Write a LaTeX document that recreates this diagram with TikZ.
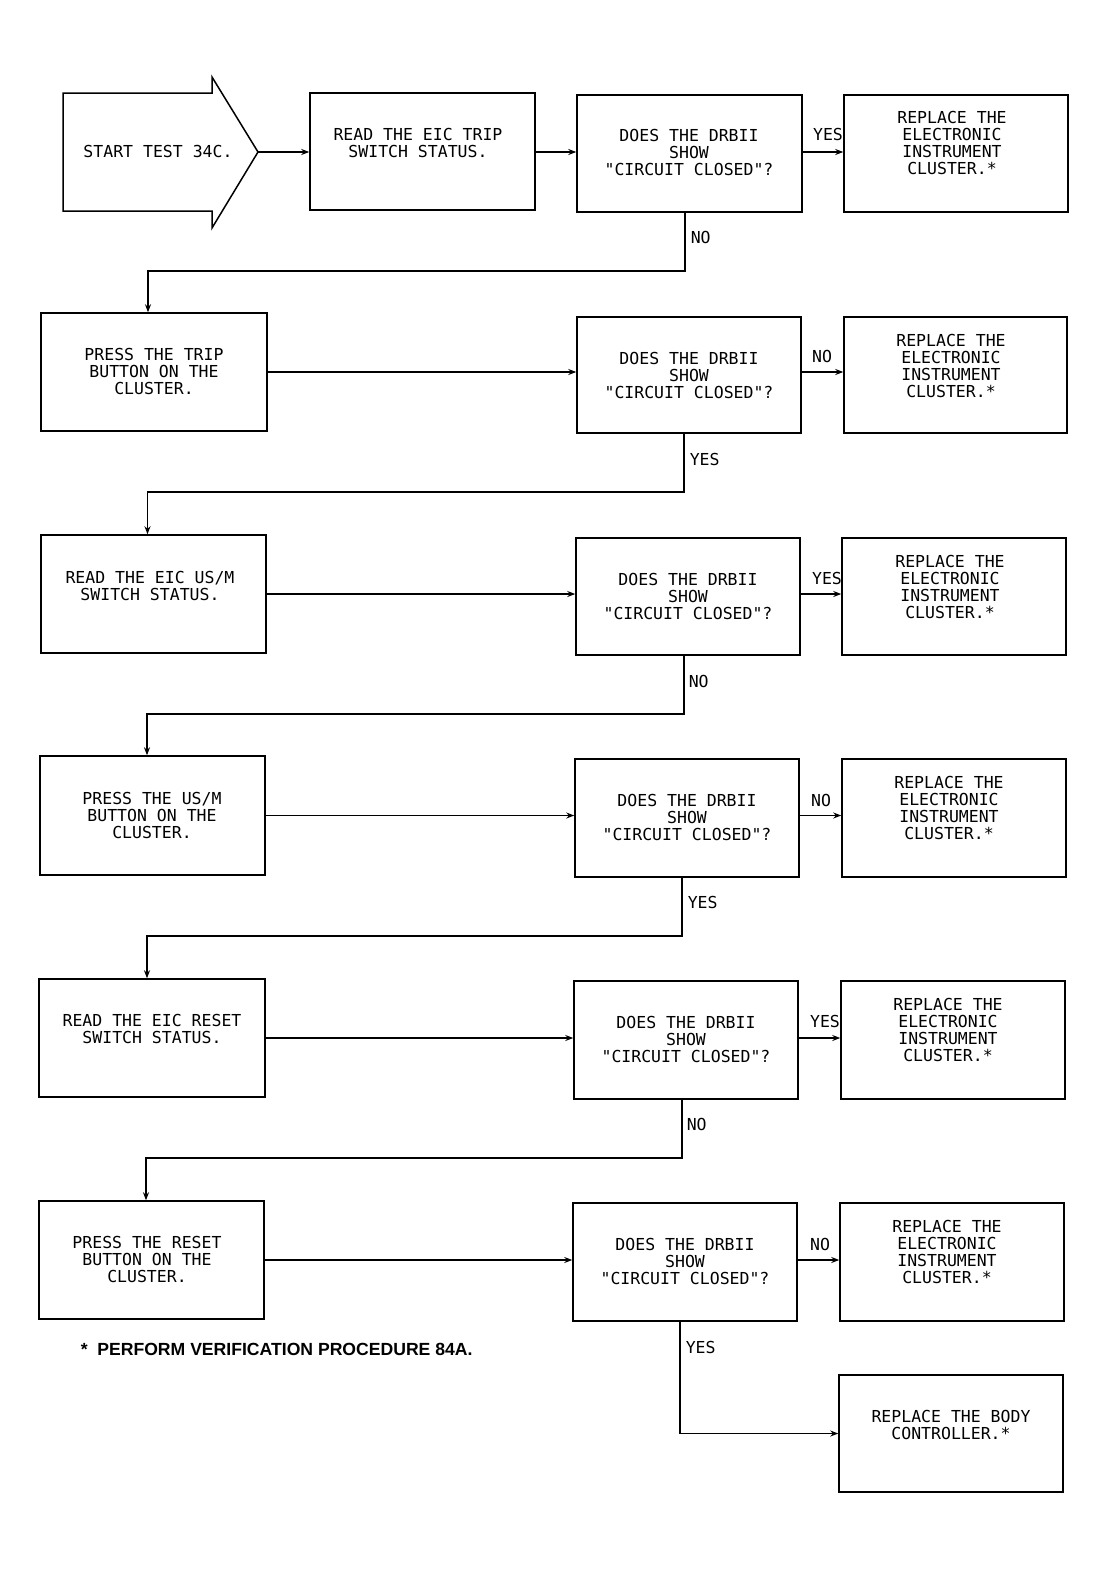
\documentclass[tikz,border=0pt]{standalone}
\usepackage{fontspec}
\setmonofont{DejaVu Sans Mono}
\newfontfamily\footfont{Liberation Sans}
\usetikzlibrary{arrows.meta}
\begin{document}
\begin{tikzpicture}[x=1pt,y=-1pt,
  line width=1.5pt,
  boxstyle/.style={draw,line width=1.5pt,inner sep=0pt,minimum width=#1},
  boxstyle/.default=225pt,
  txt/.style={font=\ttfamily\fontsize{16.5}{17}\selectfont,align=center,inner sep=0pt,anchor=north},
  lbl/.style={font=\ttfamily\fontsize{16.5}{17}\selectfont,inner sep=0pt},
  arr/.style={-{Stealth[length=8pt,width=6pt]},line width=1.5pt},
  plain/.style={line width=1.5pt}]
\useasboundingbox (0,0) rectangle (1108,1571);
% start arrow
\coordinate (st) at (258,152);
\draw[plain,line join=miter] (63,93) -- (212,93) -- (212,77) -- (st) -- (212,228) -- (212,211) -- (63,211) -- cycle;
\node[lbl] (stt) at (158,151) {START TEST 34C.};
% boxes
\node[boxstyle=225pt,minimum height=117pt] (r1) at (422.5,151.5) {};
\node[boxstyle=225pt,minimum height=117pt] (d1) at (689.5,153.5) {};
\node[boxstyle=224pt,minimum height=117pt] (x1) at (956,153.5) {};
\node[boxstyle=226pt,minimum height=118pt] (p2) at (154,372) {};
\node[boxstyle=224pt,minimum height=116pt] (d2) at (689,375) {};
\node[boxstyle=223pt,minimum height=116pt] (x2) at (955.5,375) {};
\node[boxstyle=225pt,minimum height=118pt] (p3) at (153.5,594) {};
\node[boxstyle=224pt,minimum height=117pt] (d3) at (688,596.5) {};
\node[boxstyle=224pt,minimum height=117pt] (x3) at (954,596.5) {};
\node[boxstyle=225pt,minimum height=119pt] (p4) at (152.5,815.5) {};
\node[boxstyle=224pt,minimum height=118pt] (d4) at (687,818) {};
\node[boxstyle=224pt,minimum height=118pt] (x4) at (954,818) {};
\node[boxstyle=226pt,minimum height=118pt] (p5) at (152,1038) {};
\node[boxstyle=224pt,minimum height=118pt] (d5) at (686,1040) {};
\node[boxstyle=224pt,minimum height=118pt] (x5) at (953,1040) {};
\node[boxstyle=225pt,minimum height=118pt] (p6) at (151.5,1260) {};
\node[boxstyle=224pt,minimum height=118pt] (d6) at (685,1262) {};
\node[boxstyle=224pt,minimum height=118pt] (x6) at (952,1262) {};
\node[boxstyle=224pt,minimum height=117pt] (b7) at (951,1433.5) {};
% texts
\node[txt] (r1t) at (418,128) {READ THE EIC TRIP\\SWITCH STATUS.};
\node[txt] (d1t) at (689,129) {DOES THE DRBII\\SHOW\\"CIRCUIT CLOSED"?};
\node[txt] (x1t) at (952,111) {REPLACE THE\\ELECTRONIC\\INSTRUMENT\\CLUSTER.*};
\node[txt] (p2t) at (154,347) {PRESS THE TRIP\\BUTTON ON THE\\CLUSTER.};
\node[txt] (d2t) at (689,351) {DOES THE DRBII\\SHOW\\"CIRCUIT CLOSED"?};
\node[txt] (x2t) at (951,333) {REPLACE THE\\ELECTRONIC\\INSTRUMENT\\CLUSTER.*};
\node[txt] (p3t) at (150,570) {READ THE EIC US/M\\SWITCH STATUS.};
\node[txt] (d3t) at (688,572) {DOES THE DRBII\\SHOW\\"CIRCUIT CLOSED"?};
\node[txt] (x3t) at (950,554) {REPLACE THE\\ELECTRONIC\\INSTRUMENT\\CLUSTER.*};
\node[txt] (p4t) at (152,791) {PRESS THE US/M\\BUTTON ON THE\\CLUSTER.};
\node[txt] (d4t) at (687,793) {DOES THE DRBII\\SHOW\\"CIRCUIT CLOSED"?};
\node[txt] (x4t) at (949,775) {REPLACE THE\\ELECTRONIC\\INSTRUMENT\\CLUSTER.*};
\node[txt] (p5t) at (152,1013) {READ THE EIC RESET\\SWITCH STATUS.};
\node[txt] (d5t) at (686,1015) {DOES THE DRBII\\SHOW\\"CIRCUIT CLOSED"?};
\node[txt] (x5t) at (948,997) {REPLACE THE\\ELECTRONIC\\INSTRUMENT\\CLUSTER.*};
\node[txt] (p6t) at (147,1235) {PRESS THE RESET\\BUTTON ON THE\\CLUSTER.};
\node[txt] (d6t) at (685,1237) {DOES THE DRBII\\SHOW\\"CIRCUIT CLOSED"?};
\node[txt] (x6t) at (947,1219) {REPLACE THE\\ELECTRONIC\\INSTRUMENT\\CLUSTER.*};
\node[txt] (b7t) at (951,1409) {REPLACE THE BODY\\CONTROLLER.*};
% footnote
\node[font=\footfont\bfseries\fontsize{17.6}{19}\selectfont,anchor=west,inner sep=0pt] (fn) at (80,1349) {*\ \ PERFORM VERIFICATION PROCEDURE 84A.};
% horizontal connectors
\draw[arr] (st) -- (st -| r1.west);
\draw[arr] (r1.east |- st) -- (r1.east |- st -| d1.west);
\draw[arr] (d1.east |- st) -- (st -| x1.west);
\draw[arr] (p2.east) -- (p2.east -| d2.west);
\draw[arr] (d2.east |- p2.east) -- (p2.east -| x2.west);
\draw[arr] (p3.east) -- (p3.east -| d3.west);
\draw[arr] (d3.east |- p3.east) -- (p3.east -| x3.west);
\draw[arr] (p4.east) -- (p4.east -| d4.west);
\draw[arr] (d4.east |- p4.east) -- (p4.east -| x4.west);
\draw[arr] (p5.east) -- (p5.east -| d5.west);
\draw[arr] (d5.east |- p5.east) -- (p5.east -| x5.west);
\draw[arr] (p6.east) -- (p6.east -| d6.west);
\draw[arr] (d6.east |- p6.east) -- (p6.east -| x6.west);
% vertical drops
\draw[arr] ([xshift=-4.5pt]d1.south) -- ++(0,58) -| ([xshift=-6pt]p2.north);
\draw[arr] ([xshift=-5pt]d2.south) -- ++(0,58) -| ([xshift=-6pt]p3.north);
\draw[arr] ([xshift=-4pt]d3.south) -- ++(0,58) -| ([xshift=-5.5pt]p4.north);
\draw[arr] ([xshift=-5pt]d4.south) -- ++(0,58) -| ([xshift=-5pt]p5.north);
\draw[arr] ([xshift=-4pt]d5.south) -- ++(0,58) -| ([xshift=-5.5pt]p6.north);
\draw[arr] ([xshift=-5pt]d6.south) |- (b7.west);
% labels
\node[lbl] (l1a) at (828,134) {YES};
\node[lbl,anchor=west] (l1b) at (690,237) {NO};
\node[lbl] (l2a) at (822,356) {NO};
\node[lbl,anchor=west] (l2b) at (689,459) {YES};
\node[lbl] (l3a) at (827,578) {YES};
\node[lbl,anchor=west] (l3b) at (688,681) {NO};
\node[lbl] (l4a) at (821,800) {NO};
\node[lbl,anchor=west] (l4b) at (687,902) {YES};
\node[lbl] (l5a) at (825,1021) {YES};
\node[lbl,anchor=west] (l5b) at (686,1124) {NO};
\node[lbl] (l6a) at (820,1244) {NO};
\node[lbl,anchor=west] (l6b) at (685,1347) {YES};
\end{tikzpicture}
\end{document}
